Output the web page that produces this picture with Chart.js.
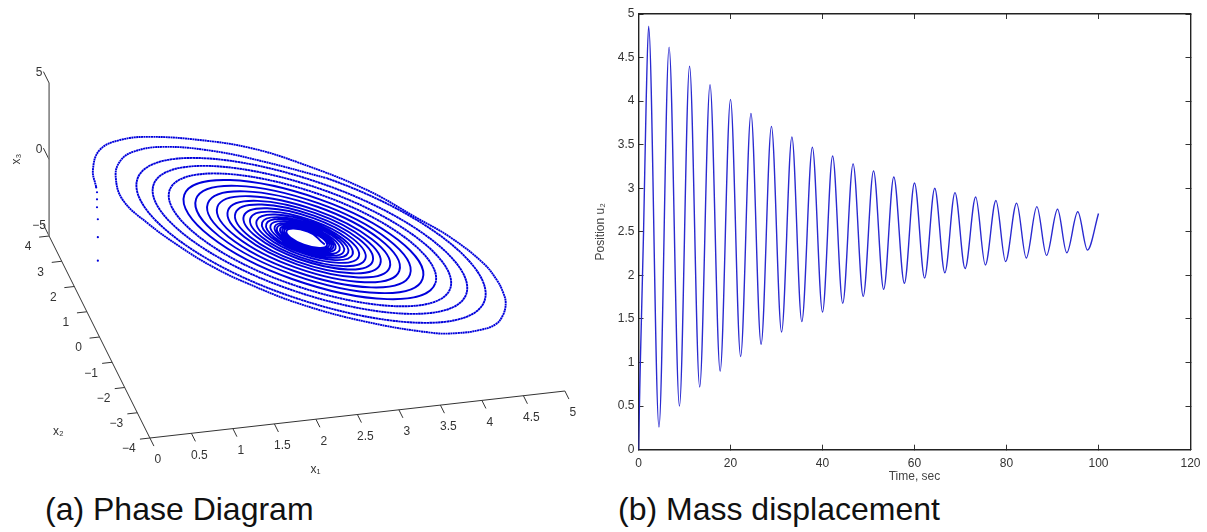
<!DOCTYPE html>
<html>
<head>
<meta charset="utf-8">
<title>Phase diagram and mass displacement</title>
<script src="https://cdn.jsdelivr.net/npm/chart.js@4"></script>
<style>
  html, body { margin: 0; background: #fff; width: 1207px; height: 532px; overflow: hidden; }
  canvas { position: absolute; top: 0; }
  #phase { left: 0; }
  #mass { left: 590px; }
  .caption { position: absolute; top: 491px; font: 32px 'Liberation Sans', sans-serif; color: #111; white-space: nowrap; }
</style>
</head>
<body>
<canvas id="phase" width="590" height="490"></canvas>
<canvas id="mass" width="617" height="490"></canvas>
<div class="caption" style="left:45px">(a) Phase Diagram</div>
<div class="caption" style="left:618px">(b) Mass displacement</div>

<script>
// (a) axis ticks
const x1Ticks = [0, 0.5, 1, 1.5, 2, 2.5, 3, 3.5, 4, 4.5, 5];
const x2Ticks = [-4, -3, -2, -1, 0, 1, 2, 3, 4];
const x3Ticks = [-5, 0, 5];

// (a) first samples, they leave the start point straight up
const tailX1 = [-0.02, -0.02, -0.02, -0.03, -0.03, -0.03, -0.04];
const tailX2 = [0, 0, 0, 0, 0, 0, 0];
const tailX3 = [0, 1.54, 2.71, 3.5, 4.02, 4.48, 4.8];

// (a) first turn and a half, sampled closer because it is not elliptical, on the x3 = 0 plane
const arcX1 = [
  0.38, 0.44, 0.63, 0.92, 1.28, 1.83, 2.36, 2.84, 3.45, 3.86, 4.13, 4.36, 4.42, 4.42, 4.39, 4.29, 4.15, 3.94, 3.67,
  3.39, 2.70, 2.04, 1.55, 1.26, 1.00, 0.76, 0.61, 0.66, 0.79, 1.00, 1.37, 1.92, 2.45, 3.06
];
const arcX2 = [
  2.77, 3.42, 4.14, 4.43, 4.42, 4.09, 3.58, 2.80, 1.51, 0.25, -0.61, -1.72, -2.42, -2.93, -3.32, -3.76, -4.08, -4.22, -4.24,
  -4.13, -3.44, -2.48, -1.47, -0.73, 0.16, 1.20, 2.17, 3.06, 3.61, 3.93, 3.99, 3.62, 2.99, 2.12
];

// (a) rest of the spiral, four samples a turn, same plane
const orbitX1 = [
  0.71, 3.06, 4.16, 1.93, 0.90, 3.00, 3.99, 1.99, 1.05, 2.95, 3.84,
  2.04, 1.20, 2.90, 3.70, 2.09, 1.34, 2.86, 3.58, 2.13, 1.45, 2.82, 3.46, 2.16, 1.56, 2.79, 3.36,
  2.20, 1.65, 2.75, 3.27, 2.23, 1.75, 2.73, 3.18, 2.25, 1.82, 2.70, 3.11, 2.28, 1.90, 2.68, 3.04,
  2.30, 1.96, 2.65, 2.98, 2.32, 2.02, 2.64, 2.92, 2.34, 2.07, 2.62, 2.88, 2.35, 2.11, 2.61, 2.84,
  2.37, 2.15, 2.59, 2.80, 2.38, 2.19, 2.58, 2.76, 2.39, 2.21, 2.57, 2.74, 2.40, 2.24, 2.56, 2.72,
  2.41, 2.26, 2.56, 2.70, 2.41, 2.28, 2.55, 2.68, 2.42, 2.30, 2.54, 2.66
];
const orbitX2 = [
  3.26, 2.12, -3.15, -2.07, 2.91, 1.89, -2.82, -1.86, 2.62, 1.70, -2.54,
  -1.68, 2.34, 1.52, -2.28, -1.51, 2.10, 1.36, -2.06, -1.36, 1.89, 1.22, -1.85, -1.22, 1.68, 1.09, -1.66,
  -1.10, 1.51, 0.97, -1.49, -0.98, 1.33, 0.86, -1.33, -0.88, 1.20, 0.77, -1.19, -0.79, 1.06, 0.68, -1.07,
  -0.71, 0.94, 0.60, -0.95, -0.63, 0.83, 0.53, -0.85, -0.56, 0.73, 0.47, -0.76, -0.51, 0.66, 0.42, -0.69,
  -0.46, 0.59, 0.37, -0.62, -0.42, 0.52, 0.33, -0.55, -0.38, 0.47, 0.29, -0.50, -0.34, 0.42, 0.26, -0.47,
  -0.32, 0.38, 0.24, -0.43, -0.30, 0.35, 0.22, -0.40, -0.27, 0.31, 0.20, -0.36
];

// (b) u2 against time: start of the rise, then every peak and trough
const timeValues = [
  0, 0.2, 0.4, 1.1, 1.67, 2.2, 4.45, 6.65, 8.9, 11.1, 13.3, 15.55, 17.75, 20, 22.2, 24.45, 26.65,
  28.9, 31.1, 33.35, 35.5, 37.8, 40, 42.2, 44.4, 46.65, 48.85, 51.1, 53.3, 55.5, 57.8, 60, 62.2,
  64.4, 66.6, 68.8, 71, 73.3, 75.4, 77.7, 79.8, 82.2, 84.3, 86.6, 88.7, 91.1, 93.1, 95.5, 97.6, 100
];
const positionValues = [
  0, 0.5, 1, 2.5, 4, 4.86, 0.26, 4.62, 0.5, 4.4, 0.72, 4.19, 0.9, 4.02, 1.07, 3.86, 1.21,
  3.71, 1.35, 3.59, 1.47, 3.47, 1.58, 3.37, 1.68, 3.28, 1.76, 3.2, 1.84, 3.13, 1.91, 3.06, 1.97,
  3, 2.03, 2.95, 2.08, 2.9, 2.12, 2.86, 2.16, 2.83, 2.2, 2.79, 2.23, 2.76, 2.26, 2.73, 2.29, 2.71
];
const timeTicks = [0, 20, 40, 60, 80, 100, 120];
const positionTicks = [0, 0.5, 1, 1.5, 2, 2.5, 3, 3.5, 4, 4.5, 5];

const FONT = "'Liberation Sans', sans-serif";
const AXIS_TEXT = '#333';
const ORBIT_BLUE = '#0000dc';
const GAP = { x: NaN, y: NaN };

// oblique view of the 3D box, result is in the hidden scales of the phase chart
function project(x1, x2, x3) {
  return {
    x: 99.5 + 83 * x1 - 12.6 * x2,
    y: 260.5 - 9.4 * x1 - 25.25 * x2 - 15.3 * x3,
  };
}

function tickMarks(values, from, to) {
  const out = [];
  values.forEach(v => out.push(from(v), to(v), GAP));
  return out;
}

function axisLine(data, color, width) {
  return { data, showLine: true, borderColor: color, borderWidth: width, pointRadius: 0, spanGaps: false, tension: 0 };
}

// tick labels and axis names of the 3D box
const phaseLabels = {
  id: 'phaseLabels',
  afterDatasetsDraw(chart) {
    const { ctx, scales } = chart;
    const put = (text, p, dx, dy, size) => {
      ctx.font = `${size}px ${FONT}`;
      ctx.fillText(text, scales.x.getPixelForValue(p.x) + dx, scales.y.getPixelForValue(p.y) + dy);
    };
    const minus = v => String(v).replace('-', '\u2212');

    ctx.save();
    ctx.fillStyle = AXIS_TEXT;
    ctx.textAlign = 'center';
    ctx.textBaseline = 'middle';
    x1Ticks.forEach(v => put(minus(v), project(v, -4, -5), 8, 22, 12));
    x2Ticks.forEach(v => put(minus(v), project(0, v, -5), -21, 11, 12));
    x3Ticks.forEach(v => put(minus(v), project(0, 4, v), -10, -10, 12));
    put('x\u2081', project(2.5, -4, -5), -42, 55, 12);
    put('x\u2082', project(0, -1.5, -5), -60, 57, 12);

    ctx.translate(17, 159);
    ctx.rotate(-Math.PI / 2);
    ctx.font = `12px ${FONT}`;
    ctx.fillText('x\u2083', 0, 0);
    ctx.restore();
  },
};

new Chart(document.getElementById('phase'), {
  type: 'scatter',
  data: {
    datasets: [
      axisLine([project(0, -4, -5), project(5, -4, -5)], '#333', 1),
      axisLine([project(0, -4, -5), project(0, 4, -5)], '#333', 1),
      axisLine([project(0, 4, -5), project(0, 4, 5)], '#808080', 1.6),
      axisLine(tickMarks(x1Ticks, v => project(v, -4, -5), v => project(v, -4.32, -5)), '#333', 1),
      axisLine(tickMarks(x2Ticks, v => project(0, v, -5), v => project(-0.12, v, -5)), '#333', 1),
      axisLine(tickMarks(x3Ticks, v => project(0, 4, v), v => project(0, 4.45, v)), '#333', 1),
      {
        data: tailX1.map((v, i) => project(v, tailX2[i], tailX3[i])),
        showLine: false,
        pointRadius: 1.1,
        pointBorderWidth: 0,
        pointBackgroundColor: ORBIT_BLUE,
      },
      {
        data: arcX1.map((v, i) => project(v, arcX2[i], 0)),
        showLine: true,
        borderColor: ORBIT_BLUE,
        borderWidth: 1.9,
        borderDash: [2, 0.45],
        pointRadius: 0,
        tension: 0.4,
      },
      {
        data: orbitX1.map((v, i) => project(v, orbitX2[i], 0)),
        showLine: true,
        borderColor: ORBIT_BLUE,
        borderWidth: 1.9,
        pointRadius: 0,
        tension: 0.55,
        segment: {
          // first segment only sets the tangent, the arc above already drew it
          borderColor: c => (c.p0DataIndex === 0 ? 'transparent' : undefined),
          borderDash: c => (c.p0DataIndex < 14 ? [2.5, 0.35] : undefined),
        },
      },
    ],
  },
  options: {
    responsive: false,
    animation: false,
    layout: { padding: 0, autoPadding: false },
    elements: { line: { capBezierPoints: false } },
    plugins: { legend: { display: false }, tooltip: { enabled: false } },
    scales: {
      x: { type: 'linear', display: false, min: 0, max: 590 },
      y: { type: 'linear', display: false, min: 0, max: 490, reverse: true },
    },
  },
  plugins: [phaseLabels],
});

// shared look of the four sides of the frame, MATLAB style ticks point inward
function frameSide(position, min, max, values, size) {
  const isX = position === 'bottom' || position === 'top';
  const labelled = position === 'bottom' || position === 'left';
  return {
    type: 'linear',
    position,
    min,
    max,
    grid: { drawOnChartArea: false, drawTicks: true, tickLength: -5, tickColor: '#333', tickWidth: 1 },
    border: { display: true, color: '#222', width: 1.4 },
    ticks: {
      display: labelled,
      padding: isX ? 12 : 9,
      maxRotation: 0,
      color: AXIS_TEXT,
      font: { family: FONT, size: 12 },
      callback: v => String(v),
    },
    afterBuildTicks: scale => { scale.ticks = values.map(value => ({ value })); },
    afterFit: scale => {
      if (isX) scale.height = size;
      else scale.width = size;
      // the labels at the ends may hang over, do not reserve room for them
      scale.paddingLeft = scale.paddingRight = scale.paddingTop = scale.paddingBottom = 0;
    },
  };
}

const massScales = {
  x: frameSide('bottom', 0, 120, timeTicks, 40.3),
  y: frameSide('left', 0, 5, positionTicks, 48.5),
  xTop: frameSide('top', 0, 120, timeTicks, 0),
  yRight: frameSide('right', 0, 5, positionTicks, 0),
};
massScales.x.title = {
  display: true,
  text: 'Time, sec',
  color: '#444',
  font: { family: FONT, size: 12 },
  padding: { top: 0, bottom: 6 },
};
massScales.y.title = {
  display: true,
  text: 'Position u\u2082',
  color: '#444',
  font: { family: FONT, size: 12 },
  padding: { top: 3, bottom: 0 },
};

new Chart(document.getElementById('mass'), {
  type: 'line',
  data: {
    datasets: [{
      data: timeValues.map((t, i) => ({ x: t, y: positionValues[i] })),
      borderColor: '#2a2ad0',
      borderWidth: 1.4,
      pointRadius: 0,
      cubicInterpolationMode: 'monotone',
    }],
  },
  options: {
    responsive: false,
    animation: false,
    layout: { padding: { top: 14, right: 16.5, bottom: 0, left: 0 }, autoPadding: false },
    plugins: { legend: { display: false }, tooltip: { enabled: false } },
    scales: massScales,
  },
});
</script>
</body>
</html>
